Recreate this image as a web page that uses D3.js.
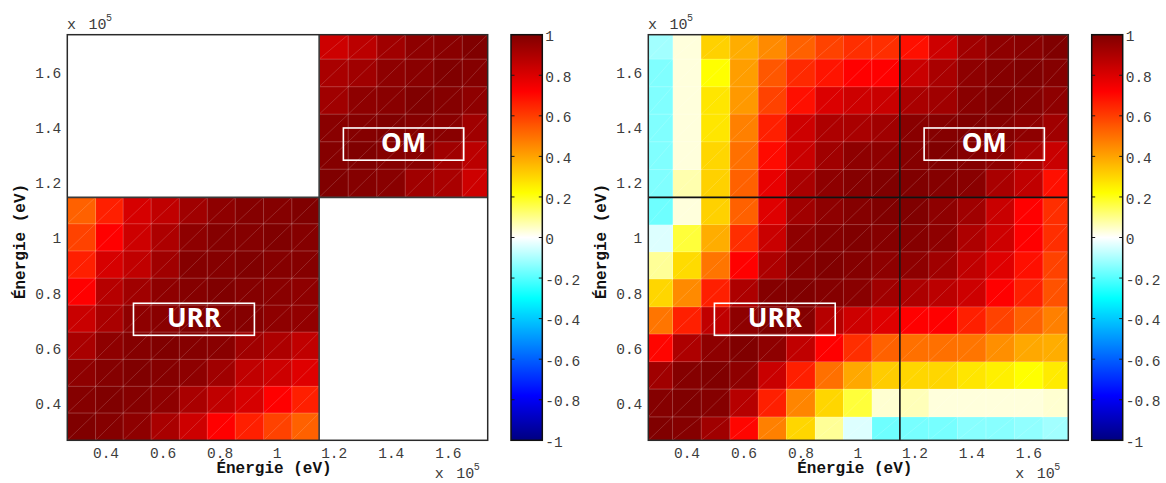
<!DOCTYPE html>
<html>
<head>
<meta charset="utf-8">
<script src="https://cdn.jsdelivr.net/npm/d3@7/dist/d3.min.js"></script>
<style>
  html, body { margin: 0; padding: 0; background: #ffffff; }
  svg { display: block; }
</style>
</head>
<body>
<svg id="chart" width="1166" height="483"></svg>
<script>
// ---------------- data ----------------
const energyRange = [0.266, 1.74];            // axis limits, x 10^5 eV
const energyEdgesLeft  = [0.266, 0.365, 0.462, 0.560, 0.659, 0.757, 0.855, 0.954, 1.053, 1.149, 1.251, 1.351, 1.451, 1.551, 1.651, 1.74];
const energyEdgesRight = [0.266, 0.351, 0.452, 0.552, 0.652, 0.751, 0.852, 0.951, 1.050, 1.149, 1.250, 1.351, 1.451, 1.551, 1.651, 1.74];
const blockBoundaryIndex = 9;                 // URR: cells 0-8, OM: cells 9-14

// rows: lowest energy first; columns: lowest energy first
const corrLeft = [
  [1.00,0.99,0.97,0.91,0.83,0.72,0.66,0.59,0.53, 0,0,0,0,0,0],
  [0.99,1.00,0.99,0.97,0.91,0.86,0.81,0.72,0.66, 0,0,0,0,0,0],
  [0.97,0.99,1.00,0.99,0.97,0.93,0.86,0.83,0.79, 0,0,0,0,0,0],
  [0.91,0.97,0.99,1.00,0.99,0.98,0.93,0.90,0.86, 0,0,0,0,0,0],
  [0.84,0.91,0.97,0.98,1.00,0.99,0.99,0.97,0.96, 0,0,0,0,0,0],
  [0.72,0.88,0.93,0.97,0.99,1.00,0.99,0.98,0.97, 0,0,0,0,0,0],
  [0.66,0.81,0.86,0.93,0.99,0.99,1.00,0.99,0.99, 0,0,0,0,0,0],
  [0.59,0.72,0.83,0.90,0.97,0.99,0.99,1.00,0.99, 0,0,0,0,0,0],
  [0.53,0.66,0.81,0.86,0.93,0.97,0.99,0.99,1.00, 0,0,0,0,0,0],
  [0,0,0,0,0,0,0,0,0, 1.00,0.99,0.98,0.93,0.91,0.83],
  [0,0,0,0,0,0,0,0,0, 0.99,1.00,0.99,0.98,0.93,0.87],
  [0,0,0,0,0,0,0,0,0, 0.98,0.99,1.00,0.99,0.98,0.93],
  [0,0,0,0,0,0,0,0,0, 0.93,0.97,0.98,1.00,0.99,0.97],
  [0,0,0,0,0,0,0,0,0, 0.91,0.93,0.97,0.98,1.00,0.99],
  [0,0,0,0,0,0,0,0,0, 0.83,0.87,0.93,0.97,0.98,1.00]
];

const corrRight = [
  [ 1.00,0.99,0.93,0.71,0.47,0.30,0.09,-0.04,-0.17,-0.16,-0.16,-0.14,-0.14,-0.13,-0.11],
  [ 0.99,1.00,0.99,0.88,0.66,0.46,0.30, 0.17, 0.04, 0.06, 0.03, 0.03, 0.03, 0.03, 0.04],
  [ 0.93,0.99,1.00,0.97,0.84,0.66,0.50, 0.39, 0.32, 0.30, 0.30, 0.27, 0.25, 0.22, 0.26],
  [ 0.71,0.90,0.97,1.00,0.97,0.86,0.72, 0.63, 0.53, 0.50, 0.50, 0.49, 0.44, 0.39, 0.38],
  [ 0.49,0.66,0.86,0.97,1.00,0.99,0.88, 0.83, 0.79, 0.72, 0.72, 0.66, 0.59, 0.53, 0.47],
  [ 0.30,0.45,0.66,0.90,0.99,1.00,0.99, 0.98, 0.93, 0.90, 0.87, 0.83, 0.72, 0.66, 0.56],
  [ 0.09,0.29,0.49,0.72,0.90,0.98,1.00, 0.99, 0.97, 0.97, 0.93, 0.86, 0.79, 0.69, 0.59],
  [-0.04,0.17,0.38,0.63,0.84,0.97,0.99, 1.00, 0.99, 0.99, 0.97, 0.90, 0.83, 0.72, 0.63],
  [-0.17,0.03,0.31,0.53,0.79,0.93,0.97, 0.99, 1.00, 1.00, 0.97, 0.93, 0.84, 0.72, 0.63],
  [-0.15,0.07,0.31,0.53,0.77,0.91,0.97, 0.99, 1.00, 1.00, 0.99, 0.98, 0.91, 0.86, 0.69],
  [-0.15,0.03,0.30,0.50,0.70,0.84,0.93, 0.97, 0.97, 0.99, 1.00, 0.99, 0.97, 0.91, 0.84],
  [-0.15,0.03,0.27,0.47,0.66,0.83,0.90, 0.91, 0.93, 0.98, 0.99, 1.00, 0.99, 0.97, 0.93],
  [-0.15,0.03,0.27,0.42,0.59,0.69,0.80, 0.83, 0.84, 0.91, 0.93, 0.98, 1.00, 0.99, 0.97],
  [-0.15,0.03,0.22,0.41,0.55,0.64,0.68, 0.72, 0.72, 0.84, 0.91, 0.97, 0.99, 1.00, 0.99],
  [-0.11,0.03,0.31,0.38,0.45,0.53,0.59, 0.63, 0.63, 0.69, 0.83, 0.93, 0.97, 0.98, 1.00]
];

const axisTicks = [0.4, 0.6, 0.8, 1.0, 1.2, 1.4, 1.6];
const colorbarTicks = [1, 0.8, 0.6, 0.4, 0.2, 0, -0.2, -0.4, -0.6, -0.8, -1];
const colorStops = [-1, -0.78, -0.3, 0, 0.22, 0.72, 1];
const colorStopColors = ["#000080", "#0000ff", "#00ffff", "#ffffff", "#ffff00", "#ff0000", "#800000"];
const blockNames = ["URR", "OM"];
const blockLabelEnergies = [[0.498, 0.922, 0.6475, 0.764], [1.234, 1.656, 1.284, 1.401]]; // x0,x1,y0,y1 in energy units
const axisLabel = "Énergie (eV)";
const exponentBase = "10", exponentPower = "5";

// ---------------- layout ----------------
const plotTop = 34.7, plotBottom = 440.3;
const panels = [
  { left: 67.3,  right: 487.7,  cbLeft: 511.0,  cbRight: 542.3,  edges: energyEdgesLeft,  corr: corrLeft,  sep: "#3a3a3a" },
  { left: 648.3, right: 1068.3, cbLeft: 1091.7, cbRight: 1122.7, edges: energyEdgesRight, corr: corrRight, sep: "#111111" }
];
const monoFont = "'Liberation Mono', 'DejaVu Sans Mono', monospace";
const fmt = d => String(+(+d).toFixed(1));

const svg = d3.select("#chart");
const color = d3.scaleLinear().domain(colorStops).range(colorStopColors).interpolate(d3.interpolateRgb).clamp(true);

// colorbar gradient
const defs = svg.append("defs");
const grad = defs.append("linearGradient").attr("id", "cbgrad")
  .attr("x1", 0).attr("y1", 1).attr("x2", 0).attr("y2", 0);
grad.selectAll("stop").data(d3.range(0, 201)).join("stop")
  .attr("offset", i => i / 200)
  .attr("stop-color", i => color(-1 + 2 * i / 200));

panels.forEach((p, pi) => {
  const g = svg.append("g");
  const xs = d3.scaleLinear().domain(energyRange).range([p.left, p.right]);
  const ys = d3.scaleLinear().domain(energyRange).range([plotBottom, plotTop]);
  const e = p.edges;

  const cells = [];
  p.corr.forEach((row, i) => row.forEach((v, j) => cells.push({ i, j, v })));

  // cells
  g.append("g").selectAll("rect").data(cells).join("rect")
    .attr("x", d => xs(e[d.j]))
    .attr("y", d => ys(e[d.i + 1]))
    .attr("width", d => xs(e[d.j + 1]) - xs(e[d.j]))
    .attr("height", d => ys(e[d.i]) - ys(e[d.i + 1]))
    .attr("fill", d => color(d.v))
    .attr("shape-rendering", "crispEdges");

  // triangulation diagonals
  g.append("g").selectAll("line").data(cells).join("line")
    .attr("x1", d => xs(e[d.j])).attr("y1", d => ys(e[d.i]))
    .attr("x2", d => xs(e[d.j + 1])).attr("y2", d => ys(e[d.i + 1]))
    .attr("stroke", "rgba(255,255,255,0.22)")
    .attr("stroke-width", 0.7);

  // faint cell grid
  const inner = e.slice(1, -1);
  const grid = g.append("g").attr("stroke", "rgba(255,255,255,0.26)").attr("stroke-width", 0.9);
  grid.selectAll("line.v").data(inner).join("line").attr("class", "v")
    .attr("x1", d => xs(d)).attr("x2", d => xs(d))
    .attr("y1", ys(energyRange[0])).attr("y2", ys(energyRange[1]));
  grid.selectAll("line.h").data(inner).join("line").attr("class", "h")
    .attr("y1", d => ys(d)).attr("y2", d => ys(d))
    .attr("x1", xs(energyRange[0])).attr("x2", xs(energyRange[1]));

  // URR / OM separation lines
  const sepE = e[blockBoundaryIndex];
  g.append("line")
    .attr("x1", xs(sepE)).attr("x2", xs(sepE))
    .attr("y1", ys(energyRange[0])).attr("y2", ys(energyRange[1]))
    .attr("stroke", p.sep).attr("stroke-width", 1.6);
  g.append("line")
    .attr("y1", ys(sepE)).attr("y2", ys(sepE))
    .attr("x1", xs(energyRange[0])).attr("x2", xs(energyRange[1]))
    .attr("stroke", p.sep).attr("stroke-width", 1.6);

  // block labels
  blockNames.forEach((name, k) => {
    const b = blockLabelEnergies[k];
    const bx0 = xs(b[0]), bx1 = xs(b[1]), by0 = ys(b[3]), by1 = ys(b[2]);
    g.append("rect")
      .attr("x", bx0).attr("y", by0)
      .attr("width", bx1 - bx0).attr("height", by1 - by0)
      .attr("fill", "none").attr("stroke", "#ffffff").attr("stroke-width", 1.6);
    g.append("text")
      .attr("x", (bx0 + bx1) / 2)
      .attr("y", (by0 + by1) / 2 + 7.8)
      .attr("text-anchor", "middle")
      .attr("fill", "#ffffff")
      .attr("font-family", "'Open Sans', 'Noto Sans', sans-serif")
      .attr("font-weight", 700)
      .attr("font-size", 26)
      .text(name);
  });

  // plot frame
  g.append("rect")
    .attr("x", p.left).attr("y", plotTop)
    .attr("width", p.right - p.left).attr("height", plotBottom - plotTop)
    .attr("fill", "none").attr("stroke", "#2a2a2a").attr("stroke-width", 1.5);

  // axes
  const ax = g.append("g").attr("transform", `translate(0,${plotBottom})`)
    .call(d3.axisBottom(xs).tickValues(axisTicks).tickSize(0).tickPadding(7).tickFormat(fmt));
  const ay = g.append("g").attr("transform", `translate(${p.left},0)`)
    .call(d3.axisLeft(ys).tickValues(axisTicks).tickSize(0).tickPadding(6).tickFormat(fmt));
  [ax, ay].forEach(a => {
    a.select(".domain").remove();
    a.attr("font-family", null).attr("font-size", null);
    a.selectAll("text")
      .attr("font-family", monoFont).attr("font-size", 14.5).attr("fill", "#3c3c3c");
  });

  // axis titles
  g.append("text")
    .attr("x", (p.left + p.right) / 2 - 3.5).attr("y", 473.3)
    .attr("text-anchor", "middle")
    .attr("font-family", monoFont).attr("font-weight", 700).attr("font-size", 16)
    .attr("fill", "#111")
    .text(axisLabel);
  g.append("text")
    .attr("transform", `translate(${p.left - 42.5},${(plotTop + plotBottom) / 2 + 4}) rotate(-90)`)
    .attr("text-anchor", "middle")
    .attr("font-family", monoFont).attr("font-weight", 700).attr("font-size", 16)
    .attr("fill", "#111")
    .text(axisLabel);

  // exponent labels
  const expo = (cx, baseY) => {
    const t = g.append("g").attr("font-family", monoFont).attr("fill", "#3c3c3c");
    t.append("text").attr("x", cx).attr("y", baseY).attr("text-anchor", "middle").attr("font-size", 15).text("x");
    t.append("text").attr("x", cx + 26).attr("y", baseY).attr("text-anchor", "middle").attr("font-size", 15).text(exponentBase);
    t.append("text").attr("x", cx + 37.5).attr("y", baseY - 8).attr("text-anchor", "middle").attr("font-size", 10).text(exponentPower);
  };
  expo(p.left + 4.3, 29.3);
  expo(p.right - 48.5, 478);

  // colorbar
  const cs = d3.scaleLinear().domain([-1, 1]).range([plotBottom, plotTop]);
  g.append("rect")
    .attr("x", p.cbLeft).attr("y", cs(1))
    .attr("width", p.cbRight - p.cbLeft).attr("height", cs(-1) - cs(1))
    .attr("fill", "url(#cbgrad)");
  const tk = g.append("g").attr("stroke", "#1a1a1a").attr("stroke-width", 1);
  tk.selectAll("line.l").data(colorbarTicks).join("line").attr("class", "l")
    .attr("x1", p.cbLeft).attr("x2", p.cbLeft + 3.5)
    .attr("y1", d => cs(d)).attr("y2", d => cs(d));
  tk.selectAll("line.r").data(colorbarTicks).join("line").attr("class", "r")
    .attr("x1", p.cbRight - 3.5).attr("x2", p.cbRight)
    .attr("y1", d => cs(d)).attr("y2", d => cs(d));
  g.append("rect")
    .attr("x", p.cbLeft).attr("y", cs(1))
    .attr("width", p.cbRight - p.cbLeft).attr("height", cs(-1) - cs(1))
    .attr("fill", "none").attr("stroke", "#111").attr("stroke-width", 1.5);
  const ac = g.append("g").attr("transform", `translate(${p.cbRight},1.5)`)
    .call(d3.axisRight(cs).tickValues(colorbarTicks).tickSize(0).tickPadding(3).tickFormat(fmt));
  ac.select(".domain").remove();
  ac.attr("font-family", null).attr("font-size", null);
  ac.selectAll("text").attr("font-family", monoFont).attr("font-size", 14.5).attr("fill", "#3c3c3c");
});
</script>
</body>
</html>
